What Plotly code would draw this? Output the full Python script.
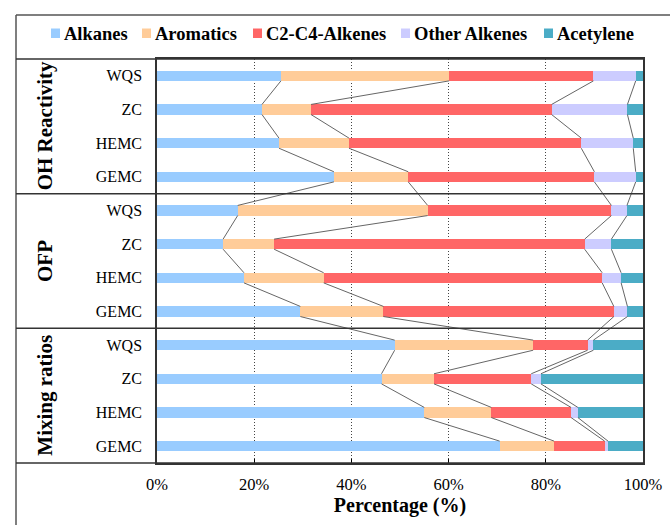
import numpy as np
import plotly.graph_objects as go

# Source groups (top to bottom) and the sites within each group
groups = ["OH Reactivity", "OFP", "Mixing ratios"]
sites = ["WQS", "ZC", "HEMC", "GEMC"]

# Percentage contributions per row: OH Reactivity (WQS, ZC, HEMC, GEMC),
# OFP (WQS, ZC, HEMC, GEMC), Mixing ratios (WQS, ZC, HEMC, GEMC)
alkanes = [25.5, 21.6, 25.1, 36.4, 16.6, 13.6, 17.9, 29.5, 48.9, 46.2, 55.0, 70.5]
aromatics = [34.6, 10.1, 14.4, 15.3, 39.1, 10.5, 16.4, 17.1, 28.5, 10.8, 13.8, 11.2]
c2c4_alkenes = [29.7, 49.5, 47.8, 38.3, 37.8, 63.9, 57.3, 47.4, 11.2, 20.0, 16.4, 10.4]
other_alkenes = [8.7, 15.6, 10.7, 8.5, 3.2, 5.5, 3.9, 2.8, 1.2, 2.0, 1.4, 0.7]
acetylene = [1.5, 3.2, 2.0, 1.5, 3.3, 6.5, 4.5, 3.2, 10.2, 21.0, 13.4, 7.2]

species = ["Alkanes", "Aromatics", "C2-C4-Alkenes", "Other Alkenes", "Acetylene"]
colors = ["#99CCFF", "#FFCC99", "#FF6666", "#CCCCFF", "#4BACC6"]
series = [alkanes, aromatics, c2c4_alkenes, other_alkenes, acetylene]

x_ticks = [0, 20, 40, 60, 80, 100]

SERIF = "Liberation Serif"
W, H = 670, 525
ML, MR, MT, MB = 157, 27, 59, 62
PW, PH = W - ML - MR, H - MT - MB

def px_x(px):
    return (px - ML) / PW

def px_y(py):
    return (H - MB - py) / PH

n_rows = len(groups) * len(sites)
rows = np.arange(n_rows)
bar_w = 0.3

fig = go.Figure()

# stacked horizontal bars
for name, col, vals in zip(species, colors, series):
    fig.add_trace(go.Bar(
        x=vals, y=rows, orientation="h", name=name,
        marker=dict(color=col, line=dict(width=0)),
        width=bar_w, showlegend=False,
    ))

# connector lines between cumulative boundaries of consecutive bars
cum = np.cumsum(np.array(series), axis=0)[:-1]  # 4 boundaries x 12 rows
lx, ly = [], []
for k in range(cum.shape[0]):
    for r in range(n_rows - 1):
        lx += [cum[k, r], cum[k, r + 1], None]
        ly += [r + bar_w / 2, r + 1 - bar_w / 2, None]
fig.add_trace(go.Scatter(
    x=lx, y=ly, mode="lines", line=dict(color="#666666", width=1),
    showlegend=False, hoverinfo="skip",
))

# table frame: outer border, header line, group dividers, label column
line_col = "#333333"
shapes = [
    dict(type="line", xref="paper", yref="paper", x0=px_x(16), x1=px_x(16),
         y0=px_y(15), y1=px_y(H + 5), line=dict(color="#555555", width=1.5)),
    dict(type="line", xref="paper", yref="paper", x0=px_x(16), x1=px_x(W + 5),
         y0=px_y(15), y1=px_y(15), line=dict(color="#555555", width=1.5)),
    dict(type="line", xref="paper", yref="paper", x0=px_x(16), x1=1,
         y0=1, y1=1, line=dict(color=line_col, width=1.5)),
    dict(type="line", xref="paper", yref="paper", x0=px_x(16), x1=1,
         y0=0, y1=0, line=dict(color=line_col, width=1.5)),
]
for g in range(1, len(groups)):
    yb = g * len(sites) - 0.5
    shapes.append(dict(type="line", xref="paper", yref="y", x0=px_x(16), x1=1,
                       y0=yb, y1=yb, line=dict(color=line_col, width=1.5)))

annotations = []
for g, gname in enumerate(groups):
    annotations.append(dict(
        text=gname, xref="paper", yref="y", x=px_x(45),
        y=g * len(sites) + (len(sites) - 1) / 2, textangle=-90,
        showarrow=False, xanchor="center", yanchor="middle",
        font=dict(family=SERIF, size=21, color="black", weight="bold"),
    ))

# legend row in the header cell: colour key square followed by its label
legend_text_x = [64, 155, 266, 414, 557]
for name, col, tx in zip(species, colors, legend_text_x):
    shapes.append(dict(
        type="rect", xref="paper", yref="paper",
        x0=px_x(tx - 13), x1=px_x(tx - 4), y0=px_y(38), y1=px_y(28.5),
        fillcolor=col, line=dict(width=0),
    ))
    annotations.append(dict(
        text=name, xref="paper", yref="paper", x=px_x(tx - 2), y=px_y(33.5),
        xanchor="left", yanchor="middle", showarrow=False,
        font=dict(family=SERIF, size=18.5, color="black", weight="bold"),
    ))

fig.update_layout(
    width=W, height=H,
    margin=dict(l=ML, r=MR, t=MT, b=MB, autoexpand=False),
    barmode="stack", showlegend=False,
    plot_bgcolor="white", paper_bgcolor="white",
    font=dict(family=SERIF, color="black"),
    shapes=shapes, annotations=annotations,
)

fig.update_xaxes(
    range=[0, 100], tickvals=x_ticks, ticktext=[f"{v}%" for v in x_ticks],
    showgrid=True, gridcolor="#444444", griddash="1px,2px", gridwidth=1,
    zeroline=False, showline=True, mirror=True, linecolor=line_col, linewidth=1.5,
    ticks="inside", ticklen=4, tickcolor="black", tickwidth=1,
    tickfont=dict(family=SERIF, size=16.5, color="black"),
    ticklabelstandoff=5, automargin=False,
    title=dict(text="Percentage (%)", standoff=5,
               font=dict(family=SERIF, size=20, color="black", weight="bold")),
)
fig.update_yaxes(
    range=[n_rows - 0.5, -0.5], tickvals=list(rows),
    ticktext=sites * len(groups),
    showgrid=False, zeroline=False, showline=True, mirror=True,
    linecolor=line_col, linewidth=1.5, ticks="",
    tickfont=dict(family=SERIF, size=16, color="black"),
    ticklabelstandoff=10, automargin=False,
)

fig.write_html("out.html")
